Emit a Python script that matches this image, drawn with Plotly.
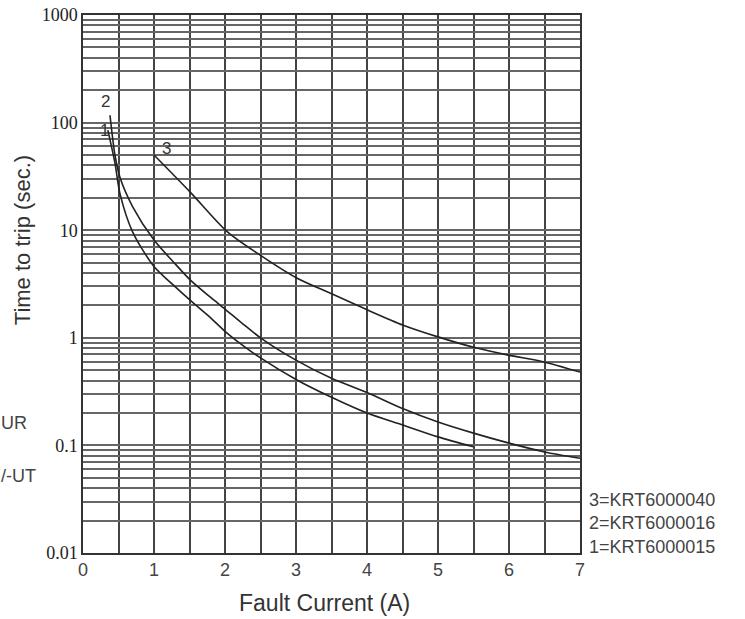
import math
import plotly.graph_objects as go

# Curve data (fault current A, time s)
c1_x = [0.35, 0.45, 0.52, 0.70, 1.0, 1.27, 1.52, 1.79, 2.0, 2.25, 2.5, 3.0, 3.5, 4.0, 4.5, 5.0, 5.5]
c1_y = [85, 42, 22, 9.6, 4.6, 3.1, 2.2, 1.55, 1.15, 0.85, 0.65, 0.41, 0.28, 0.2, 0.155, 0.12, 0.097]
c2_x = [0.38, 0.45, 0.52, 0.70, 1.0, 1.27, 1.52, 1.79, 2.0, 2.25, 2.5, 3.0, 3.5, 4.0, 4.5, 5.0, 5.5, 6.0, 6.5, 7.0]
c2_y = [117, 50, 31, 16.5, 8.1, 5.1, 3.4, 2.4, 1.85, 1.35, 1.0, 0.62, 0.42, 0.31, 0.22, 0.165, 0.13, 0.105, 0.087, 0.076]
c3_x = [1.0, 1.51, 2.03, 2.49, 3.01, 3.51, 4.01, 4.51, 5.0, 5.49, 5.99, 6.48, 7.0]
c3_y = [50, 22.6, 9.7, 5.9, 3.6, 2.55, 1.81, 1.31, 1.02, 0.82, 0.69, 0.6, 0.48]

x_ticks = [0, 1, 2, 3, 4, 5, 6, 7]
x_grid = [0, 0.5, 1, 1.5, 2, 2.5, 3, 3.5, 4, 4.5, 5, 5.5, 6, 6.5, 7]
y_decades = [0.01, 0.1, 1, 10, 100, 1000]
y_labels = ["0.01", "0.1", "1", "10", "100", "1000"]
legend_lines = ["3=KRT6000040", "2=KRT6000016", "1=KRT6000015"]
curve_labels = [("2", 0.31, 158), ("1", 0.30, 84), ("3", 1.18, 57)]

# grid values for log paper
y_grid = []
for d in y_decades[:-1]:
    for k in range(1, 10):
        y_grid.append(round(d * k, 6))
y_grid.append(1000)
y_text = [y_labels[y_decades.index(v)] if v in y_decades else "" for v in y_grid]

fig = go.Figure()
line = dict(color="#222222", width=1.6)
for xs, ys in [(c1_x, c1_y), (c2_x, c2_y), (c3_x, c3_y)]:
    fig.add_trace(go.Scatter(x=xs, y=ys, mode="lines", line=dict(line, shape="spline", smoothing=0.8),
                             showlegend=False, hoverinfo="skip"))

ann = []
for t, xv, yv in curve_labels:
    ann.append(dict(x=xv, y=math.log10(yv), xref="x", yref="y", text=t,
                    showarrow=False, font=dict(family="Liberation Sans", size=17, color="#333")))
ly = [0.0985, 0.0558, 0.011]
for t, yv in zip(legend_lines, ly):
    ann.append(dict(x=1.015, y=yv, xref="paper", yref="paper", text=t, xanchor="left",
                    yanchor="middle", showarrow=False,
                    font=dict(family="Liberation Sans", size=18, color="#444")))
ann.append(dict(x=-0.12, y=0.582, xref="paper", yref="paper", text="Time to trip (sec.)",
                textangle=-90, xanchor="center", yanchor="middle", showarrow=False,
                font=dict(family="Liberation Sans", size=22, color="#333")))
ann.append(dict(x=0.486, y=-0.093, xref="paper", yref="paper", text="Fault Current (A)",
                xanchor="center", yanchor="middle", showarrow=False,
                font=dict(family="Liberation Sans", size=23, color="#333")))
ann.append(dict(x=-0.169, y=0.2416, xref="paper", yref="paper", text="UR", xanchor="left",
                yanchor="middle", showarrow=False,
                font=dict(family="Liberation Sans", size=18, color="#444")))
ann.append(dict(x=-0.169, y=0.143, xref="paper", yref="paper", text="/-UT", xanchor="left",
                yanchor="middle", showarrow=False,
                font=dict(family="Liberation Sans", size=18, color="#444")))

fig.update_layout(
    width=745, height=619,
    margin=dict(l=83, r=165, t=15, b=66),
    paper_bgcolor="white", plot_bgcolor="white",
    annotations=ann,
    xaxis=dict(range=[0, 7], tickvals=x_grid, automargin=False,
               ticktext=[str(int(v)) if v in x_ticks else "" for v in x_grid],
               showgrid=True, gridcolor="#444", gridwidth=1.5,
               showline=True, linecolor="#333", linewidth=1.5, mirror=True,
               ticks="", zeroline=False,
               tickfont=dict(family="Liberation Sans", size=18, color="#444")),
    yaxis=dict(type="log", range=[-2, 3], tickvals=y_grid, ticktext=y_text, automargin=False,
               showgrid=True, gridcolor="#666", gridwidth=1.5,
               showline=True, linecolor="#333", linewidth=1.5, mirror=True,
               ticks="", zeroline=False,
               tickfont=dict(family="Liberation Serif", size=18, color="#222")),
)
fig.write_html("out.html")
